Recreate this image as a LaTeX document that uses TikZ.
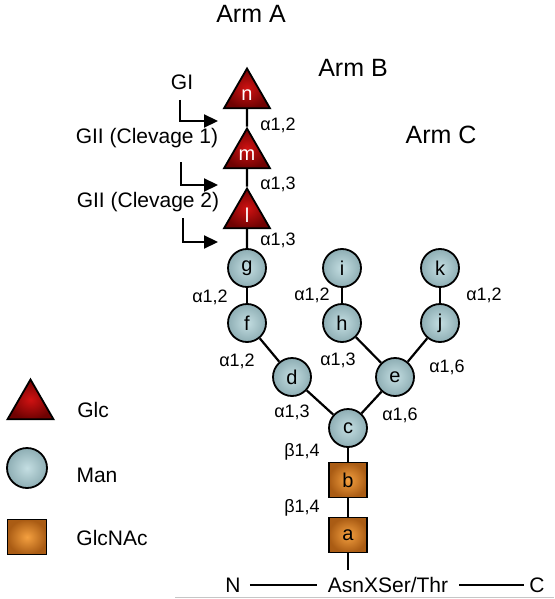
\documentclass[tikz,border=0pt]{standalone}
\usepackage{fontspec}
\setmainfont{Liberation Sans}
\usetikzlibrary{shapes.geometric,arrows.meta}
\definecolor{glcin}{HTML}{D01212}
\definecolor{glcout}{HTML}{700202}
\definecolor{manin}{HTML}{C4DEE2}
\definecolor{manout}{HTML}{8EAEB4}
\definecolor{gnin}{HTML}{F4A040}
\definecolor{gnout}{HTML}{AA5C14}
\tikzset{
  glc/.style={regular polygon, regular polygon sides=3, minimum size=53pt, inner sep=0pt,
    draw=black, line width=1.8pt, inner color=glcin, outer color=glcout,
    text=white, font=\fontsize{20}{22}\selectfont},
  man/.style={circle, minimum size=38pt, inner sep=0pt, draw=black, line width=1.8pt,
    inner color=manin, outer color=manout, font=\fontsize{20}{22}\selectfont},
  glcnac/.style={rectangle, minimum width=38pt, minimum height=35pt, inner sep=0pt,
    draw=black, line width=1.8pt, inner color=gnin, outer color=gnout,
    font=\fontsize{20}{22}\selectfont},
  lbl/.style={inner sep=0pt, font=\fontsize{18}{20}\selectfont},
  txt/.style={inner sep=3pt, font=\fontsize{21}{24}\selectfont},
  armtxt/.style={inner sep=0pt, font=\fontsize{25}{28}\selectfont},
  link/.style={line width=2.2pt},
  arr/.style={line width=2.2pt, -{Triangle[length=14pt,width=13pt]}}
}
\begin{document}
\begin{tikzpicture}[x=1pt,y=-1pt]
\useasboundingbox (0,0) rectangle (554,599);
% arm labels
\node[armtxt] (armA) at (251,14) {Arm A};
\node[armtxt] (armB) at (353,68) {Arm B};
\node[armtxt] (armC) at (441,135) {Arm C};
% glucoses
\node[glc] (n) at (247,95) {n};
\node[glc] (m) at (247,155) {m};
\node[glc] (l) at (247,215) {l};
% mannoses
\node[man] (g) at (247,268) {g};
\node[man] (f) at (247,323) {f};
\node[man] (d) at (292,377) {d};
\node[man] (c) at (348,428) {c};
\node[man] (e) at (395,377) {e};
\node[man] (h) at (342,323) {h};
\node[man] (i) at (342,268) {i};
\node[man] (j) at (440,323) {j};
\node[man] (k) at (440,268) {k};
% GlcNAc
\node[glcnac] (b) at (348,480) {b};
\node[glcnac] (a) at (348,535) {a};
\coordinate (pep) at (348,570);
% links
\draw[link] (n) -- (m);
\draw[link] (m) -- (l);
\draw[link] (l) -- (g);
\draw[link] (g) -- (f);
\draw[link] (f) -- (d);
\draw[link] (d) -- (c);
\draw[link] (c) -- (e);
\draw[link] (e) -- (h);
\draw[link] (h) -- (i);
\draw[link] (e) -- (j);
\draw[link] (j) -- (k);
\draw[link] (c) -- (b);
\draw[link] (b) -- (a);
\draw[link] (a) -- (pep);
% linkage labels
\node[lbl] (l1) at (278,125) {α1,2};
\node[lbl] (l2) at (278,184) {α1,3};
\node[lbl] (l3) at (278,240) {α1,3};
\node[lbl] (l4) at (210,297) {α1,2};
\node[lbl] (l5) at (237,361) {α1,2};
\node[lbl] (l6) at (292,412) {α1,3};
\node[lbl] (l7) at (312,295) {α1,2};
\node[lbl] (l8) at (338,360) {α1,3};
\node[lbl] (l9) at (484,295) {α1,2};
\node[lbl] (l10) at (447,367) {α1,6};
\node[lbl] (l11) at (400,415) {α1,6};
\node[lbl] (l12) at (302,452) {β1,4};
\node[lbl] (l13) at (302,508) {β1,4};
% glucosidase labels and arrows
\node[txt, inner sep=0pt] (gi) at (182,82) {GI};
\node[txt, inner sep=0pt] (gii1) at (147,138) {GII (Clevage 1)};
\node[txt, inner sep=0pt] (gii2) at (148,202) {GII (Clevage 2)};
\coordinate (a1s) at (180,100);
\coordinate (a1e) at (218,121);
\coordinate (a2s) at (181,162);
\coordinate (a2e) at (218,185);
\coordinate (a3s) at (183,218);
\coordinate (a3e) at (218,242);
\draw[arr] (a1s) |- (a1e);
\draw[arr] (a2s) |- (a2e);
\draw[arr] (a3s) |- (a3e);
% peptide
\node[txt] (N) at (233,585) {N};
\node[txt] (asn) at (388,585) {AsnXSer/Thr};
\node[txt] (C) at (537,585) {C};
\draw[line width=1.5pt] ([xshift=6pt]N.east) -- ([xshift=-8pt]asn.west);
\draw[line width=1.5pt] ([xshift=8pt]asn.east) -- ([xshift=-2pt]C.west);
\coordinate (gl1) at (175,597);
\coordinate (gl2) at (554,597);
\draw[gray!45, line width=1pt] (gl1) -- (gl2);
% legend
\node[glc] (legglc) at (30.5,406) {};
\node[txt] (legglct) at (93,410) {Glc};
\node[man, minimum size=40pt] (legman) at (27,468) {};
\node[txt] (legmant) at (97,475) {Man};
\node[glcnac, minimum width=39pt] (legglcnac) at (27,537) {};
\node[txt] (legglcnact) at (112,538) {GlcNAc};
\end{tikzpicture}
\end{document}
